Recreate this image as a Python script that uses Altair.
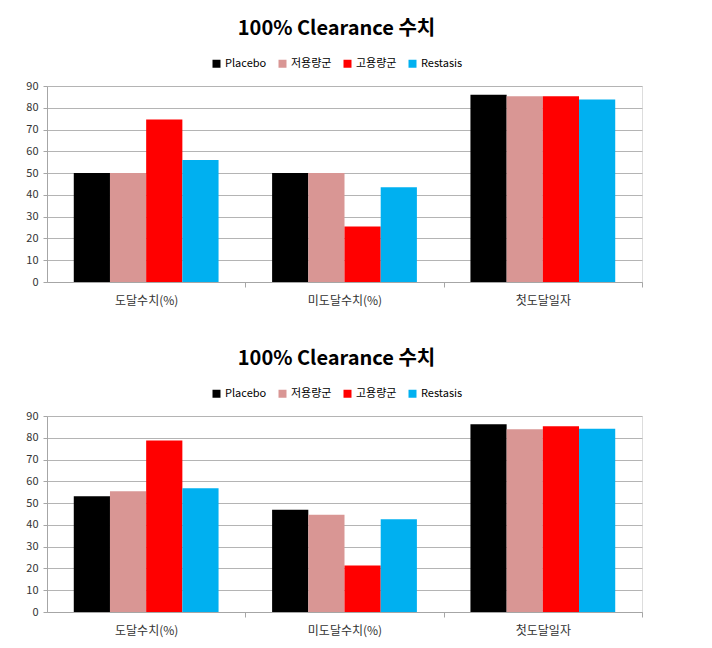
import altair as alt
import pandas as pd

categories = ["도달수치(%)", "미도달수치(%)", "첫도달일자"]
groups = ["Placebo", "저용량군", "고용량군", "Restasis"]
colors = ["#000000", "#d99694", "#ff0000", "#00b0f0"]

# top panel values per group (categories order)
top_placebo = [50, 50, 86]
top_low = [50, 50, 85.3]
top_high = [74.6, 25.5, 85.3]
top_restasis = [56, 43.5, 83.8]

# bottom panel values per group
bot_placebo = [53.1, 47.0, 86.2]
bot_low = [55.4, 44.7, 83.9]
bot_high = [78.7, 21.4, 85.3]
bot_restasis = [56.8, 42.6, 84.2]

title_text = "100% Clearance 수치"
y_ticks = [0, 10, 20, 30, 40, 50, 60, 70, 80, 90]

FONT = "Noto Sans CJK KR"


def make_df(series):
    rows = []
    for g, vals in zip(groups, series):
        for c, v in zip(categories, vals):
            rows.append({"category": c, "group": g, "value": v})
    return pd.DataFrame(rows)


def panel(series):
    df = make_df(series)
    return alt.Chart(df).mark_bar().encode(
        x=alt.X(
            "category:N",
            sort=categories,
            title=None,
            scale=alt.Scale(paddingInner=0.27, paddingOuter=0.135),
            axis=alt.Axis(
                labelAngle=0,
                labelFontSize=12,
                labelColor="#333333",
                labelFont=FONT,
                labelPadding=8,
                grid=False,
                domainColor="#a6a6a6",
                tickColor="#a6a6a6",
                tickSize=5,
                bandPosition=1,
                tickOffset=26.73,
                labelOffset=-26.73,
            ),
        ),
        xOffset=alt.XOffset(
            "group:N", sort=groups, scale=alt.Scale(paddingInner=0, paddingOuter=0)
        ),
        y=alt.Y(
            "value:Q",
            title=None,
            scale=alt.Scale(domain=[0, 90], nice=False),
            axis=alt.Axis(
                values=y_ticks,
                labelFontSize=11,
                labelColor="#333333",
                labelFont=FONT,
                labelPadding=5,
                tickSize=4,
                tickColor="#a6a6a6",
                domainColor="#a6a6a6",
                gridColor="#b4b4b4",
                gridWidth=1,
            ),
        ),
        color=alt.Color(
            "group:N",
            sort=groups,
            scale=alt.Scale(domain=groups, range=colors),
            legend=alt.Legend(
                title=None,
                orient="none",
                direction="horizontal",
                legendX=164,
                legendY=-28,
                symbolType="square",
                symbolSize=64,
                symbolStrokeWidth=0,
                labelFontSize=11,
                labelFont=FONT,
                labelColor="#000000",
                columnPadding=10,
                labelOffset=3,
            ),
        ),
    ).properties(
        width=595,
        height=196,
        title=alt.TitleParams(
            title_text,
            fontSize=20,
            fontWeight="bold",
            font=FONT,
            color="#000000",
            anchor="middle",
            dx=-8,
            offset=19,
        ),
    )


chart = alt.vconcat(
    panel([top_placebo, top_low, top_high, top_restasis]),
    panel([bot_placebo, bot_low, bot_high, bot_restasis]),
    spacing=41,
).resolve_legend(color="independent").properties(
    padding={"left": 25, "top": 18, "right": 10, "bottom": 5}
).configure_view(stroke=None).configure(background="white")

chart.save("out.html", embed_options={"renderer": "svg", "actions": False})
